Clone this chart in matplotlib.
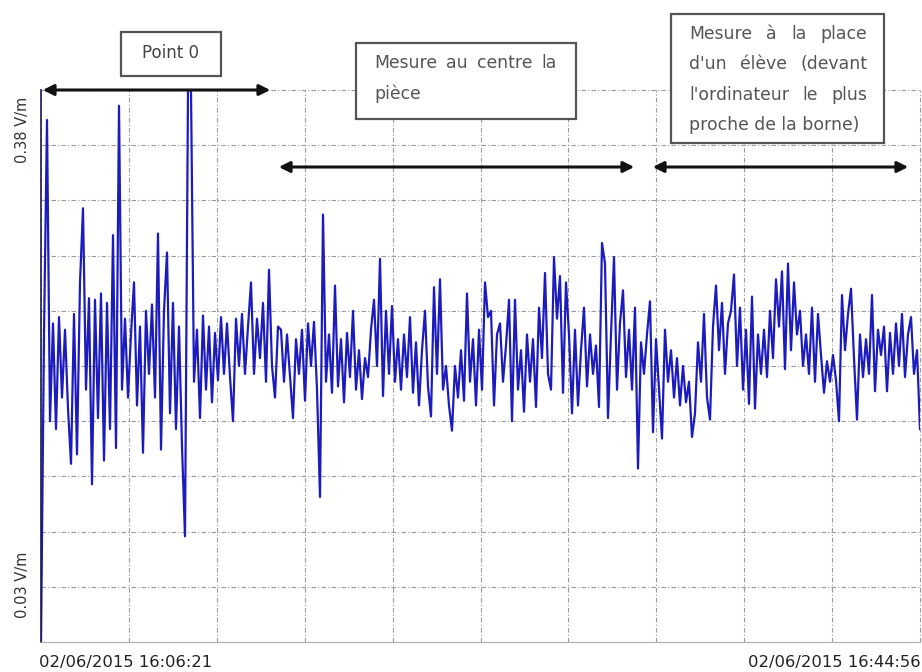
import numpy as np
import pandas as pd
import matplotlib
matplotlib.use("Agg")
import matplotlib.pyplot as plt
from matplotlib.patches import FancyArrowPatch, Rectangle

t_start = "2015-06-02 16:06:21"
t_end = "2015-06-02 16:44:56"
y_min_label = "0.03 V/m"
y_max_label = "0.38 V/m"
y_min, y_max = 0.03, 0.38

field = [
    0.030, 0.225, 0.361, 0.170, 0.232, 0.165, 0.236, 0.185, 0.228, 0.178,
    0.143, 0.238, 0.149, 0.258, 0.305, 0.190, 0.248, 0.130, 0.247, 0.172,
    0.251, 0.145, 0.245, 0.165, 0.288, 0.153, 0.370, 0.190, 0.235, 0.185,
    0.225, 0.258, 0.180, 0.230, 0.150, 0.240, 0.200, 0.244, 0.185, 0.289,
    0.152, 0.240, 0.277, 0.175, 0.245, 0.165, 0.230, 0.154, 0.097, 0.380,
    0.380, 0.195, 0.228, 0.172, 0.237, 0.190, 0.230, 0.182, 0.226, 0.196,
    0.236, 0.200, 0.232, 0.198, 0.170, 0.235, 0.205, 0.238, 0.200, 0.230,
    0.258, 0.200, 0.235, 0.210, 0.245, 0.195, 0.266, 0.205, 0.185, 0.230,
    0.228, 0.195, 0.225, 0.198, 0.172, 0.222, 0.200, 0.228, 0.183, 0.232,
    0.205, 0.233, 0.190, 0.122, 0.301, 0.195, 0.225, 0.188, 0.256, 0.192,
    0.222, 0.182, 0.226, 0.198, 0.240, 0.190, 0.215, 0.184, 0.210, 0.198,
    0.228, 0.247, 0.205, 0.273, 0.186, 0.240, 0.200, 0.243, 0.195, 0.222,
    0.190, 0.225, 0.198, 0.236, 0.188, 0.220, 0.180, 0.215, 0.240, 0.192,
    0.173, 0.255, 0.200, 0.260, 0.190, 0.205, 0.180, 0.164, 0.205, 0.185,
    0.215, 0.183, 0.251, 0.195, 0.222, 0.180, 0.228, 0.190, 0.258, 0.236,
    0.240, 0.180, 0.225, 0.232, 0.195, 0.218, 0.247, 0.170, 0.247, 0.190,
    0.215, 0.176, 0.225, 0.195, 0.222, 0.179, 0.242, 0.210, 0.264, 0.200,
    0.190, 0.274, 0.235, 0.262, 0.188, 0.258, 0.225, 0.175, 0.228, 0.180,
    0.215, 0.242, 0.192, 0.225, 0.200, 0.218, 0.179, 0.283, 0.270, 0.172,
    0.225, 0.274, 0.190, 0.232, 0.253, 0.198, 0.228, 0.190, 0.242, 0.140,
    0.220, 0.200, 0.225, 0.246, 0.163, 0.222, 0.190, 0.159, 0.228, 0.195,
    0.215, 0.185, 0.210, 0.180, 0.205, 0.182, 0.195, 0.160, 0.175, 0.220,
    0.195, 0.238, 0.185, 0.171, 0.230, 0.256, 0.215, 0.245, 0.200, 0.232,
    0.240, 0.263, 0.205, 0.242, 0.190, 0.228, 0.181, 0.249, 0.178, 0.225,
    0.200, 0.228, 0.198, 0.240, 0.210, 0.260, 0.230, 0.265, 0.203, 0.270,
    0.215, 0.258, 0.225, 0.240, 0.205, 0.225, 0.200, 0.242, 0.195, 0.238,
    0.212, 0.188, 0.208, 0.195, 0.212, 0.196, 0.170, 0.250, 0.215, 0.238,
    0.254, 0.210, 0.171, 0.225, 0.198, 0.222, 0.200, 0.250, 0.189, 0.228,
    0.212, 0.230, 0.189, 0.226, 0.200, 0.232, 0.205, 0.238, 0.198, 0.225,
    0.236, 0.200, 0.215, 0.165,
]

# annotation boxes: text lines, box (x, y, w, h) in pixels, text left/right, line centres
point0_lines = ["Point 0"]
centre_lines = ["Mesure au centre la", "pièce"]
eleve_lines = ["Mesure à la place", "d'un élève (devant", "l'ordinateur le plus",
               "proche de la borne)"]
zones = [
    (point0_lines, (121, 32, 100, 44), None, None, [53]),
    (centre_lines, (356, 43, 220, 76), 374, 557, [63, 94]),
    (eleve_lines, (671, 14, 213, 129), 689, 867, [34, 64, 95, 125]),
]
spans = [((40, 90), (273, 90)), ((276, 167), (637, 167)), ((650, 167), (911, 167))]

W, H = 922, 672
TXT = 12.4


def fpos(x, y):
    """Top-left pixel coordinates -> figure fraction."""
    return x / W, 1 - y / H


def justified(lines, xl, xr, ys, renderer):
    """Word-spread every line but the last between xl and xr (like the source doc)."""
    for i, (line, y) in enumerate(zip(lines, ys)):
        words = line.split()
        if i == len(lines) - 1 or len(words) == 1:
            fig.text(*fpos(xl, y), line, ha="left", va="center", fontsize=TXT,
                     color="#555555", zorder=6)
            continue
        widths = []
        for w in words:
            t = fig.text(0, 0, w, fontsize=TXT)
            widths.append(t.get_window_extent(renderer).width)
            t.remove()
        gap = (xr - xl - sum(widths)) / (len(words) - 1)
        x = xl
        for w, wd in zip(words, widths):
            fig.text(*fpos(x, y), w, ha="left", va="center", fontsize=TXT,
                     color="#555555", zorder=6)
            x += wd + gap


# ── figure ────────────────────────────────────────────────────────────────
fig = plt.figure(figsize=(W / 100, H / 100), dpi=100, facecolor="white")
ax = fig.add_axes([41 / W, 1 - 642 / H, 879 / W, 552 / H])

times = pd.date_range(t_start, t_end, periods=len(field))
ax.plot(times, field, color="#1c1cbe", lw=1.6)

ax.set_xlim(pd.Timestamp(t_start), pd.Timestamp(t_end))
ax.set_ylim(y_min, y_max)
ax.set_xticks(pd.date_range(t_start, t_end, periods=11))
ax.set_yticks(np.linspace(y_min, y_max, 11))
ax.tick_params(length=0, labelbottom=False, labelleft=False)
ax.grid(True, color="#9a9a9a", lw=0.8, linestyle=(0, (4, 2, 1, 2)))
for gl in ax.get_xgridlines() + ax.get_ygridlines():
    gl.set_clip_on(False)
for s in ("top", "right"):
    ax.spines[s].set_visible(False)
ax.spines["left"].set_color("#1a1a50")
ax.spines["left"].set_linewidth(1.2)
ax.spines["bottom"].set_color("#b0b0b0")

# axis labels drawn as plain text like the logger software does
fig.text(*fpos(22, 130), y_max_label, rotation=90, ha="center", va="center",
         fontsize=10.5, color="#333333")
fig.text(*fpos(22, 585), y_min_label, rotation=90, ha="center", va="center",
         fontsize=10.5, color="#333333")
fig.text(*fpos(39, 662), pd.Timestamp(t_start).strftime("%d/%m/%Y %H:%M:%S"),
         ha="left", va="center", fontsize=11.8, color="#222222")
fig.text(*fpos(921, 662), pd.Timestamp(t_end).strftime("%d/%m/%Y %H:%M:%S"),
         ha="right", va="center", fontsize=11.8, color="#222222")

renderer = fig.canvas.get_renderer()
for lines, (bx, by, bw, bh), xl, xr, ys in zones:
    x0, y1 = fpos(bx, by)
    x1, y0 = fpos(bx + bw, by + bh)
    fig.patches.append(Rectangle((x0, y0), x1 - x0, y1 - y0, transform=fig.transFigure,
                                 facecolor="white", edgecolor="#555555", lw=1.6, zorder=5))
    if xl is None:
        fig.text((x0 + x1) / 2, fpos(0, ys[0])[1], lines[0], ha="center", va="center",
                 fontsize=12, color="#444444", zorder=6)
    else:
        justified(lines, xl, xr, ys, renderer)

# double arrows marking each measurement zone
for (xa, ya), (xb, yb) in spans:
    fig.add_artist(FancyArrowPatch(fpos(xa, ya), fpos(xb, yb), transform=fig.transFigure,
                                   arrowstyle="<|-|>", mutation_scale=16, color="#111111",
                                   lw=2.2, zorder=7))

fig.savefig("out.png", dpi=100, facecolor="white")
